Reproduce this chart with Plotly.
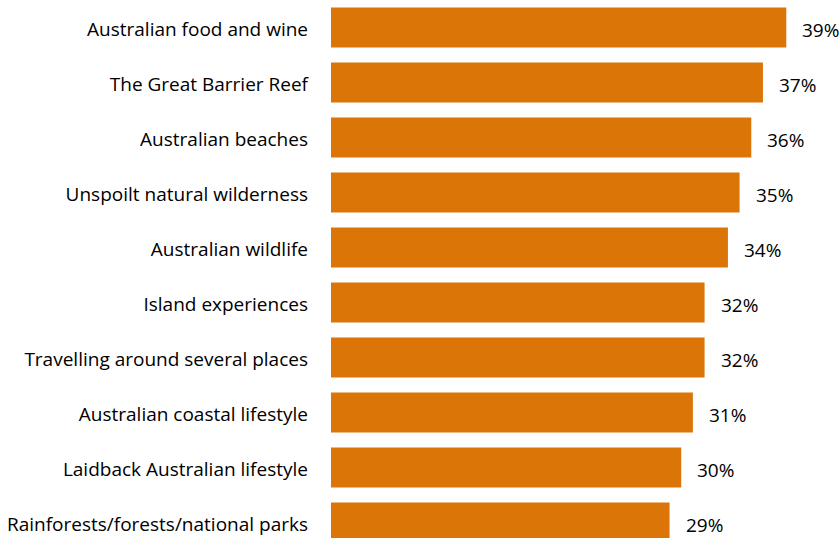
import plotly.graph_objects as go

categories = [
    "Australian food and wine",
    "The Great Barrier Reef",
    "Australian beaches",
    "Unspoilt natural wilderness",
    "Australian wildlife",
    "Island experiences",
    "Travelling around several places",
    "Australian coastal lifestyle",
    "Laidback Australian lifestyle",
    "Rainforests/forests/national parks",
]
values = [39, 37, 36, 35, 34, 32, 32, 31, 30, 29]
value_labels = [f"{v}%" for v in values]

BAR_COLOR = "#DC7508"
FONT = "Open Sans"
FSIZE = 19

fig = go.Figure(
    go.Bar(
        x=values,
        y=categories,
        orientation="h",
        marker=dict(color=BAR_COLOR, line=dict(width=0)),
        hoverinfo="skip",
    )
)

for c, v, t in zip(categories, values, value_labels):
    fig.add_annotation(
        x=v, y=c, text=t, showarrow=False, xanchor="left", xshift=14,
        yshift=-2,
        font=dict(family=FONT, size=FSIZE, color="#000000"),
    )

fig.update_layout(
    width=840,
    height=538,
    margin=dict(l=331, r=0, t=0, b=0),
    paper_bgcolor="white",
    plot_bgcolor="white",
    bargap=0.273,
    showlegend=False,
    font=dict(family=FONT, size=FSIZE, color="#000000"),
    xaxis=dict(range=[0, 43.6], showgrid=False, zeroline=False, showticklabels=False,
               showline=False, fixedrange=True),
    yaxis=dict(range=[9.28, -0.5], showgrid=False, zeroline=False, showline=False,
               ticks="", ticklabelstandoff=22, ticklabelshift=-2,
               tickfont=dict(family=FONT, size=FSIZE)),
)

fig.write_html(
    "out.html",
    config={"displayModeBar": False},
    post_script="document.body.style.margin='0';document.body.style.padding='0';",
)
